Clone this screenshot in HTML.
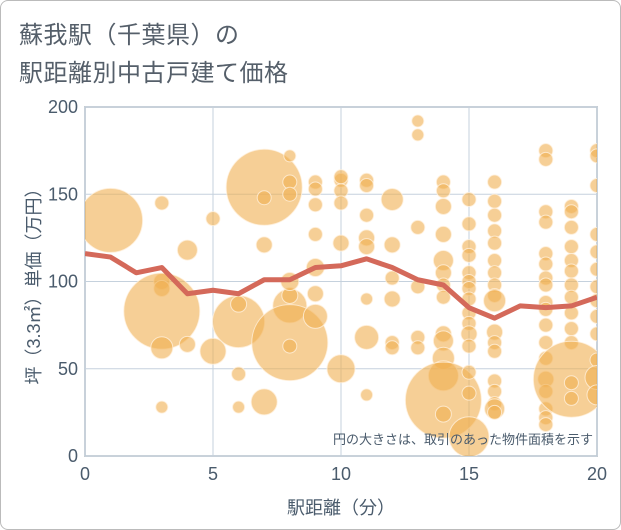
<!DOCTYPE html>
<html><head><meta charset="utf-8"><style>
body{margin:0;background:#fff;font-family:"Liberation Sans","Noto Sans CJK JP",sans-serif}
#wrap{position:relative;width:619px;height:528px;border:1px solid #bbb;border-radius:8px;overflow:hidden}
.title{position:absolute;left:18px;font-size:24px;color:#555f6a;letter-spacing:0.5px}
</style></head><body>
<div id="wrap">
<div class="title" style="top:14px">蘇我駅（千葉県）の</div>
<div class="title" style="top:52px">駅距離別中古戸建て価格</div>
<svg id="c" width="621" height="530" style="position:absolute;left:-1px;top:-1px"></svg>
</div>
<script>
const xTicks=[0,5,10,15,20];
const yTicks=[0,50,100,150,200];
const lineX=[0,1,2,3,4,5,6,7,8,9,10,11,12,13,14,15,16,17,18,19,20];
const lineY=[116,114,105,108,93,95,93,101,101,108,109,113,108,101,98,85,79,86,85,86,91];
const bx=[1,3,3,3,3,3,3,4,4,5,5,6,6,6,6,7,7,7,7,8,8,8,8,8,8,8,8,9,9,9,9,9,9,9,10,10,10,10,10,10,11,11,11,11,11,11,11,11,12,12,12,12,12,12,13,13,13,13,13,13,14,14,14,14,14,14,14,14,14,14,14,14,14,14,15,15,15,15,15,15,15,15,15,15,15,15,15,15,15,16,16,16,16,16,16,16,16,16,16,16,16,16,16,16,16,16,16,18,18,18,18,18,18,18,18,18,18,18,18,18,18,18,18,18,18,19,19,19,19,19,19,19,19,19,19,19,19,19,19,20,20,20,20,20,20,20,20,20,20,20,20,20,20];
const by=[135,145,100,96,83,62,28,118,64,136,60,77,87,47,28,154,148,121,31,172,157,150,86,65,63,92,100,157,153,144,127,108,93,80,158,152,145,160,122,50,158,155,138,125,120,90,68,35,147,121,102,65,62,90,192,184,131,97,68,62,157,152,143,127,112,105,98,91,70,66,56,46,32,24,147,133,120,115,105,100,96,90,82,76,70,63,48,36,11,157,146,138,129,122,112,105,98,92,89,71,65,60,43,37,30,27,25,175,170,140,134,116,110,102,98,88,84,75,65,56,44,37,27,22,18,143,140,131,120,112,106,98,91,82,73,65,44,42,33,175,172,155,127,117,107,97,89,80,70,55,45,35,26];
const br=[32,7,8,8,38,11,6,10,8,7,13,26,8,7,6,38,7,8,13,6,7,7,17,38,7,8,9,7,7,7,7,9,8,12,7,7,7,7,8,14,7,7,7,8,8,6,12,6,11,8,7,7,7,8,6,6,7,7,7,7,7,7,8,8,10,8,7,7,8,10,11,15,38,8,7,7,7,7,7,7,7,7,7,7,8,7,7,7,20,7,7,7,7,7,7,7,7,7,11,8,7,7,7,7,7,10,7,7,7,7,7,7,7,7,7,7,7,7,7,7,8,7,7,7,7,7,7,7,7,7,7,7,7,7,7,7,38,7,7,7,7,7,7,7,7,7,7,7,7,7,12,10];
const X0=85,X1=597,Y0=456,Y1=107;
const sx=v=>X0+(X1-X0)*v/20, sy=v=>Y0-(Y0-Y1)*v/200;
const svg=document.getElementById('c'),NS='http://www.w3.org/2000/svg';
function mk(t,a,p){const e=document.createElementNS(NS,t);for(const k in a)e.setAttribute(k,a[k]);(p||svg).appendChild(e);return e;}
let e=mk('rect',{x:X0,y:Y1,width:X1-X0,height:Y0-Y1,fill:'#fff',stroke:'#9aa4ad','stroke-width':1.5});


xTicks.forEach(t=>{
 let g=mk('line',{x1:sx(t),x2:sx(t),y1:Y1,y2:Y0,stroke:'#c5d1dd'});
 
 
 let l=mk('text',{x:sx(t),y:480,'text-anchor':'middle','font-size':18,fill:'#4a5b6c'});l.textContent=t;
 
 
});
yTicks.forEach(t=>{
 let g=mk('line',{x1:X0,x2:X1,y1:sy(t),y2:sy(t),stroke:'#c5d1dd'});
 
 
 let l=mk('text',{x:78,y:sy(t)+6,'text-anchor':'end','font-size':18,fill:'#4a5b6c'});l.textContent=t;
 
 
});
const clip=mk('clipPath',{id:'cp'});mk('rect',{x:X0,y:Y1,width:X1-X0,height:Y0-Y1},clip);
const gb=mk('g',{'clip-path':'url(#cp)'});
bx.forEach((v,i)=>{
 let c=mk('circle',{cx:sx(v),cy:sy(by[i]),r:br[i],fill:'rgba(240,175,80,0.6)',stroke:'rgba(255,240,220,0.8)','stroke-width':1},gb);
 
 
});
let p=mk('polyline',{points:lineX.map((v,i)=>sx(v)+','+sy(lineY[i])).join(' '),fill:'none',stroke:'#d4695a','stroke-width':5,'stroke-linejoin':'round'},gb);


let n=mk('text',{x:593,y:444,'text-anchor':'end','font-size':13,fill:'#4a5b6c'});n.textContent='円の大きさは、取引のあった物件面積を示す';


let xt=mk('text',{x:341,y:514,'text-anchor':'middle','font-size':18,fill:'#4a5b6c'});xt.textContent='駅距離（分）';


let yt=mk('text',{x:0,y:0,'text-anchor':'middle','font-size':18,fill:'#4a5b6c',transform:'translate(40,282) rotate(-90)'});yt.textContent='坪（3.3㎡）単価（万円）';


</script>
</body></html>
